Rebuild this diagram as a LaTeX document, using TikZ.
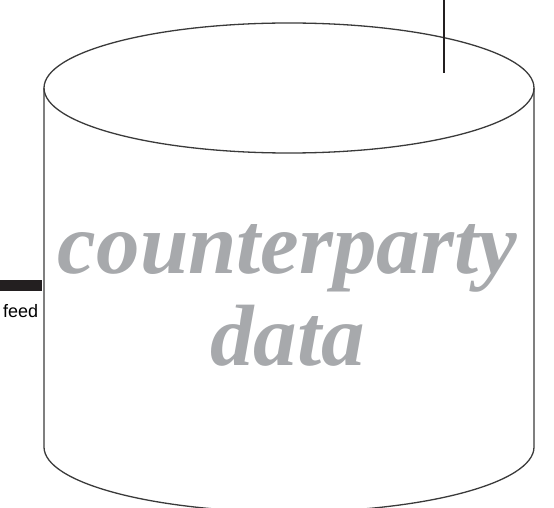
\documentclass[tikz,border=0pt]{standalone}
\usepackage{fontspec}
\setmainfont{Liberation Serif}
\newfontfamily\bigfont{Liberation Serif}[UprightFont={* Bold Italic}]
\newfontfamily\labelfont{Liberation Sans}
\definecolor{linec}{HTML}{3A3A3A}
\definecolor{barc}{HTML}{231F20}
\definecolor{textc}{HTML}{A7A9AC}
\begin{document}
\begin{tikzpicture}[x=1bp,y=-1bp,
  outline/.style={draw=linec, line width=1.3bp},
  bigtext/.style={text=textc, inner sep=0pt, font=\bigfont\fontsize{87bp}{92bp}\selectfont},
  feedtext/.style={inner sep=0pt, font=\labelfont\fontsize{18bp}{20bp}\selectfont},
  feedbar/.style={draw=barc, line width=11bp},
  topline/.style={draw=barc, line width=2bp}]
\useasboundingbox (0,0) rectangle (554,508);
\clip (0,0) rectangle (554,508);
% cylinder
\coordinate (tl) at (44,88);
\coordinate (tr) at (534,88);
\coordinate (bl) at (44,447);
\coordinate (br) at (534,447);
\draw[outline] (289,88) ellipse [x radius=245, y radius=65];
\draw[outline] (tl) -- (bl) arc [start angle=180, end angle=360, x radius=245, y radius=-65] -- (tr);
% connectors
\coordinate (topend) at (444,0);
\coordinate (topin) at (444,73);
\draw[topline] (topend) -- (topin);
\coordinate (feedend) at (0,285.5);
\coordinate (feedin) at (42,285.5);
\draw[feedbar] (feedend) -- (feedin);
% texts
\node[feedtext, anchor=base west] (feed) at (3,317) {feed};
\node[bigtext, anchor=base] (l1) at (287.5,273) {counterparty};
\node[bigtext, anchor=base] (l2) at (287.5,365) {data};
\end{tikzpicture}
\end{document}
